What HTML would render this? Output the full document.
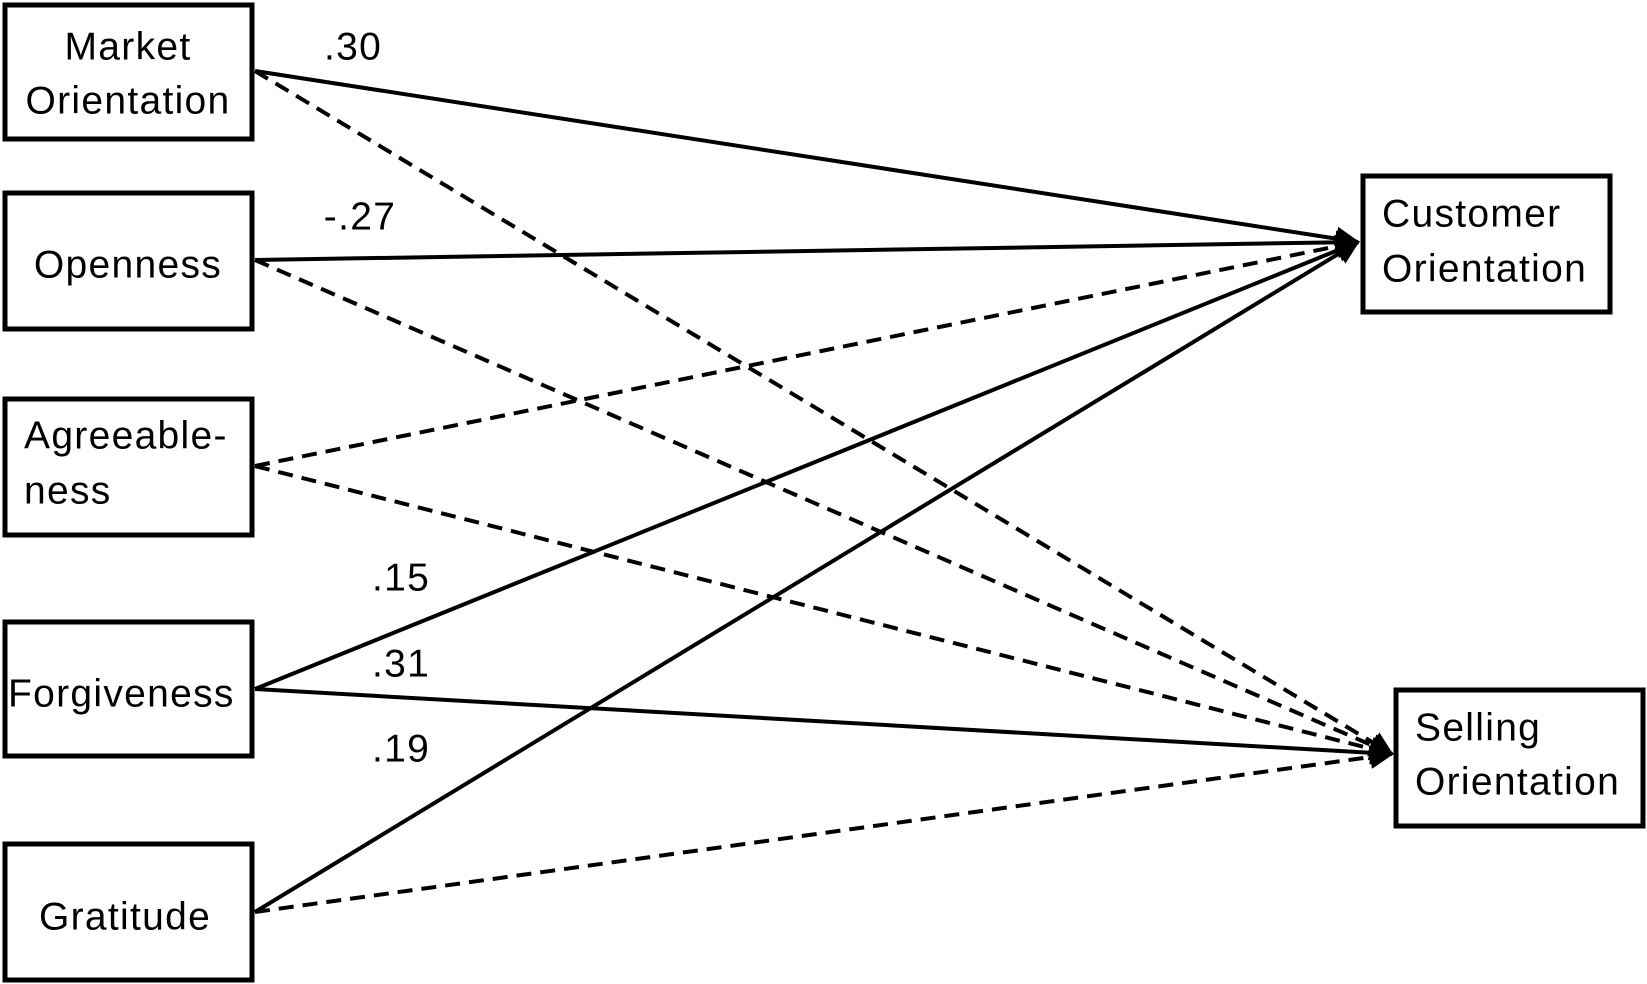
<!DOCTYPE html>
<html><head><meta charset="utf-8"><style>
html,body{margin:0;padding:0;background:#fff;}
svg{display:block;}
text{font-family:"Liberation Sans",sans-serif;font-size:39px;letter-spacing:1.3px;fill:#000;dominant-baseline:central;}
</style></head><body>
<svg width="1647" height="984" viewBox="0 0 1647 984" xmlns="http://www.w3.org/2000/svg">
<defs>
<marker id="a" markerWidth="6" markerHeight="6" refX="5.5" refY="3" orient="auto" markerUnits="strokeWidth">
<path d="M0,0 L6,3 L0,6 z" fill="#000"/></marker>
</defs>
<g fill="none" stroke="#000" stroke-width="5">
<rect x="5" y="5" width="247" height="134"/>
<rect x="5" y="193" width="247" height="136"/>
<rect x="5" y="399" width="247" height="136"/>
<rect x="5" y="622" width="247" height="134"/>
<rect x="5" y="844" width="247" height="136"/>
<rect x="1363" y="176" width="247" height="136"/>
<rect x="1396" y="690" width="247" height="136"/>
</g>
<g stroke="#000" stroke-width="4" fill="none">
<line x1="255" y1="71" x2="1358" y2="242" marker-end="url(#a)"/>
<line x1="255" y1="260" x2="1358" y2="242" marker-end="url(#a)"/>
<line x1="255" y1="689" x2="1358" y2="242" marker-end="url(#a)"/>
<line x1="255" y1="912" x2="1358" y2="242" marker-end="url(#a)"/>
<line x1="255" y1="689" x2="1392" y2="754" marker-end="url(#a)"/>
</g>
<g stroke="#000" stroke-width="4" fill="none" stroke-dasharray="15,9">
<line x1="255" y1="466" x2="1358" y2="242" marker-end="url(#a)"/>
<line x1="255" y1="71" x2="1392" y2="754" marker-end="url(#a)"/>
<line x1="255" y1="260" x2="1392" y2="754" marker-end="url(#a)"/>
<line x1="255" y1="466" x2="1392" y2="754" marker-end="url(#a)"/>
<line x1="255" y1="912" x2="1392" y2="754" marker-end="url(#a)"/>
</g>
<text x="128" y="47" text-anchor="middle">Market</text>
<text x="128" y="101" text-anchor="middle">Orientation</text>
<text x="128" y="265" text-anchor="middle">Openness</text>
<text x="24" y="436">Agreeable-</text>
<text x="24" y="491">ness</text>
<text x="8" y="694">Forgiveness</text>
<text x="125" y="917" text-anchor="middle">Gratitude</text>
<text x="1382" y="214">Customer</text>
<text x="1382" y="269">Orientation</text>
<text x="1415" y="728">Selling</text>
<text x="1415" y="782">Orientation</text>
<text x="353" y="47" text-anchor="middle">.30</text>
<text x="360" y="217" text-anchor="middle">-.27</text>
<text x="401" y="578" text-anchor="middle">.15</text>
<text x="401" y="664" text-anchor="middle">.31</text>
<text x="401" y="749" text-anchor="middle">.19</text>
</svg>
</body></html>
